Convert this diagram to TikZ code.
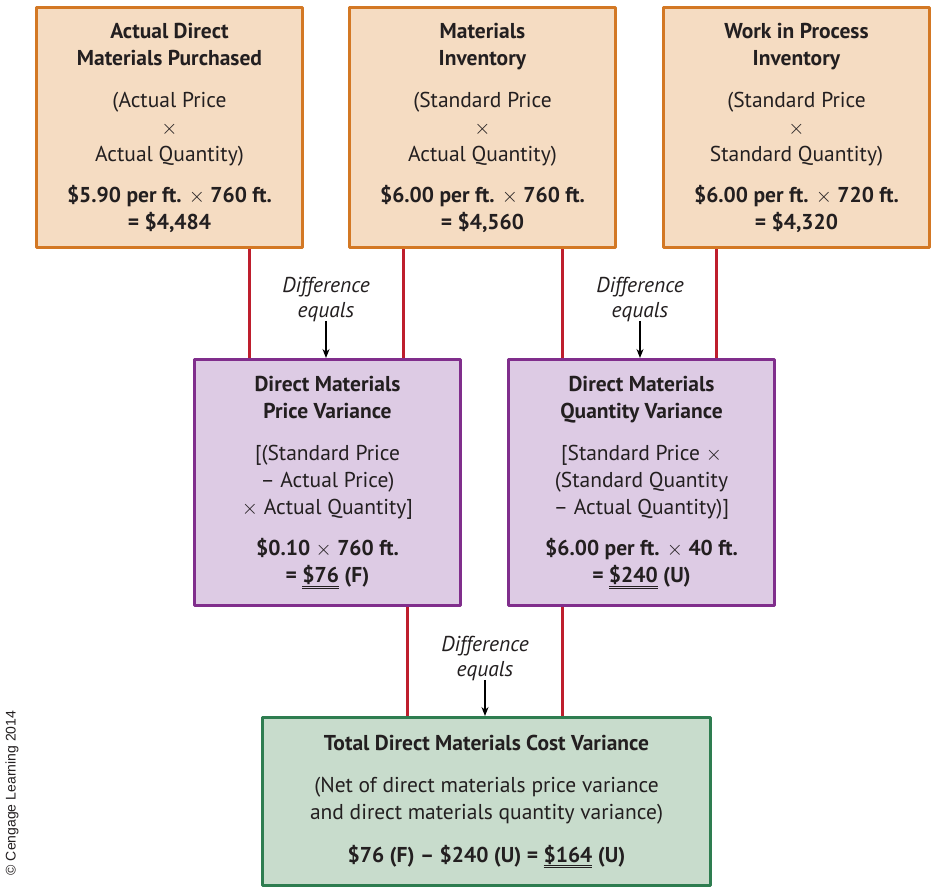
\documentclass[tikz,border=0pt]{standalone}
\usepackage{fontspec}
\setmainfont{PT Sans}
\newfontfamily\credfont{Liberation Sans}
\usetikzlibrary{arrows.meta,positioning}
\definecolor{varOrange}{HTML}{D37824}
\definecolor{varPeach}{HTML}{F5DCC2}
\definecolor{varPurple}{HTML}{802E8C}
\definecolor{varLilac}{HTML}{DDCBE4}
\definecolor{varGreen}{HTML}{2E7D50}
\definecolor{varMint}{HTML}{C8DCCC}
\definecolor{varRed}{HTML}{BE1E2D}
\definecolor{varInk}{HTML}{231F20}
\newcommand{\dul}[1]{\underline{\underline{#1}}}
\newcommand{\by}{$\times$}

\begin{document}
\begin{tikzpicture}[x=1pt,y=-1pt,>=Stealth,line join=round]
\path[use as bounding box,fill=white] (0,0) rectangle (934,888);
\tikzset{costbox/.style={draw=varOrange,fill=varPeach,line width=3pt,minimum width=266pt,minimum height=240pt},
  varbox/.style={draw=varPurple,fill=varLilac,line width=3pt,minimum width=266pt,minimum height=246pt},
  totalbox/.style={draw=varGreen,fill=varMint,line width=3pt,minimum width=448pt,minimum height=168pt},
  boxtext/.style={text=varInk,align=center,font=\fontsize{21.5}{27}\selectfont,inner sep=0pt},
  link/.style={draw=varRed,line width=3pt},
  diffnote/.style={text=varInk,align=center,font=\fontsize{21.5}{25}\selectfont\itshape},
  diffarrow/.style={draw=black,line width=1.3pt,-{Stealth[length=9pt,width=7pt]}}}
% top row: the three cost levels
\node[costbox,boxtext] (actual) at (169.5,127.5) {\textbf{Actual Direct}\\\textbf{Materials Purchased}\\[15pt]
  (Actual Price\\\by\\Actual Quantity)\\[14pt]
  \textbf{\$5.90 per ft. \by{} 760 ft.}\\\textbf{= \$4,484}};
\node[costbox,boxtext] (matinv) at (482.5,127.5) {\textbf{Materials}\\\textbf{Inventory}\\[15pt]
  (Standard Price\\\by\\Actual Quantity)\\[14pt]
  \textbf{\$6.00 per ft. \by{} 760 ft.}\\\textbf{= \$4,560}};
\node[costbox,boxtext] (wip) at (796.5,127.5) {\textbf{Work in Process}\\\textbf{Inventory}\\[15pt]
  (Standard Price\\\by\\Standard Quantity)\\[14pt]
  \textbf{\$6.00 per ft. \by{} 720 ft.}\\\textbf{= \$4,320}};
% middle row: the two variances
\node[varbox,boxtext] (pricevar) at (327.5,482.5) {\textbf{Direct Materials}\\\textbf{Price Variance}\\[15pt]
  [(Standard Price\\– Actual Price)\\\by{} Actual Quantity]\\[14pt]
  \textbf{\$0.10 \by{} 760 ft.}\\\textbf{= \dul{\$76} (F)}};
\node[varbox,boxtext] (qtyvar) at (641.5,482.5) {\textbf{Direct Materials}\\\textbf{Quantity Variance}\\[15pt]
  [Standard Price \by\\(Standard Quantity\\– Actual Quantity)]\\[14pt]
  \textbf{\$6.00 per ft. \by{} 40 ft.}\\\textbf{= \dul{\$240} (U)}};
% bottom: total variance
\node[totalbox,boxtext] (total) at (486.5,801.5) {\textbf{Total Direct Materials Cost Variance}\\[15pt]
  (Net of direct materials price variance\\and direct materials quantity variance)\\[16pt]
  \textbf{\$76 (F) – \$240 (U) = \dul{\$164} (U)}};
% connectors between the levels
\draw[link] ([xshift=56pt]pricevar.north west) -- ([xshift=56pt]pricevar.north west |- actual.south);
\draw[link] ([xshift=55pt]matinv.south west) -- ([xshift=55pt]matinv.south west |- pricevar.north);
\draw[link] ([xshift=55pt]qtyvar.north west) -- ([xshift=55pt]qtyvar.north west |- matinv.south);
\draw[link] ([xshift=54pt]wip.south west) -- ([xshift=54pt]wip.south west |- qtyvar.north);
\draw[link] ([xshift=-55pt]pricevar.south east) -- ([xshift=-55pt]pricevar.south east |- total.north);
\draw[link] ([xshift=55pt]qtyvar.south west) -- ([xshift=55pt]qtyvar.south west |- total.north);
% difference notes
\node[diffnote] (diffa) at (326,299) {Difference\\equals};
\node[diffnote] (diffb) at (640,299) {Difference\\equals};
\node[diffnote] (diffc) at (485,658) {Difference\\equals};
\draw[diffarrow] ([yshift=4pt]diffa.south) -- (diffa.south |- pricevar.north);
\draw[diffarrow] ([yshift=4pt]diffb.south) -- (diffb.south |- qtyvar.north);
\draw[diffarrow] ([yshift=4pt]diffc.south) -- (diffc.south |- total.north);
\node[rotate=90,font=\credfont\fontsize{14}{16}\selectfont,text=varInk] (credit) at (12,793) {© Cengage Learning 2014};
\end{tikzpicture}
\end{document}
